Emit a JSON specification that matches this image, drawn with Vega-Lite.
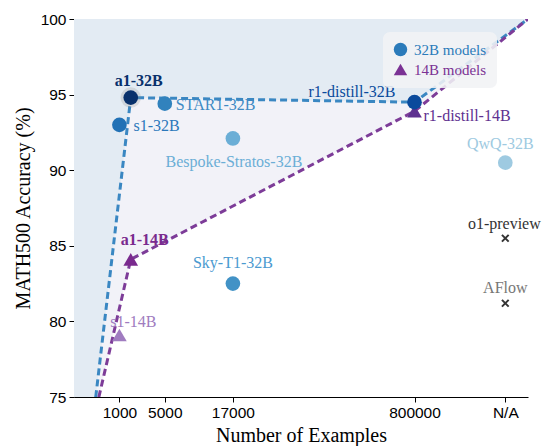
{
  "$schema": "https://vega.github.io/schema/vega-lite/v6.json",
  "width": 454,
  "height": 378,
  "autosize": {"type": "none"},
  "padding": {"left": 74, "top": 19, "right": 15, "bottom": 49},
  "background": "white",
  "config": {
    "view": {"stroke": null},
    "axis": {
      "grid": false,
      "domainColor": "#000000",
      "tickColor": "#000000",
      "domainWidth": 1,
      "tickWidth": 1,
      "tickSize": 5,
      "labelFont": "Liberation Sans",
      "labelFontSize": 15.5,
      "labelColor": "#000000",
      "titleFont": "Liberation Serif",
      "titleFontSize": 20,
      "titleFontWeight": "normal",
      "titleColor": "#000000"
    }
  },
  "datasets": {
    "models": [
      {"name": "s1-14B", "x": 10, "y": 79.1, "group": "14B models"},
      {"name": "a1-14B", "x": 12.5, "y": 84.1, "group": "14B models"},
      {"name": "r1-distill-14B", "x": 75, "y": 93.9, "group": "14B models"},
      {"name": "s1-32B", "x": 10, "y": 93.0, "group": "32B models"},
      {"name": "STAR1-32B", "x": 20, "y": 94.4, "group": "32B models"},
      {"name": "Bespoke-Stratos-32B", "x": 35, "y": 92.1, "group": "32B models"},
      {"name": "Sky-T1-32B", "x": 35, "y": 82.5, "group": "32B models"},
      {"name": "QwQ-32B", "x": 95, "y": 90.5, "group": "32B models"},
      {"name": "r1-distill-32B", "x": 75, "y": 94.5, "group": "32B models"},
      {"name": "a1-32B", "x": 12.5, "y": 94.8, "group": "32B models"},
      {"name": "o1-preview", "x": 95, "y": 85.5, "group": "baseline"},
      {"name": "AFlow", "x": 95, "y": 81.2, "group": "baseline"}
    ],
    "frontier": [
      {"series": "32B", "x": 0, "y": 62.7},
      {"series": "32B", "x": 12.5, "y": 94.8},
      {"series": "32B", "x": 75, "y": 94.5},
      {"series": "32B", "x": 100, "y": 100},
      {"series": "14B", "x": 0, "y": 67.9},
      {"series": "14B", "x": 12.5, "y": 84.1},
      {"series": "14B", "x": 75, "y": 93.9},
      {"series": "14B", "x": 100, "y": 100}
    ]
  },
  "encoding": {
    "x": {
      "field": "x",
      "type": "quantitative",
      "scale": {"domain": [0, 100], "nice": false, "zero": false},
      "axis": {
        "title": "Number of Examples",
        "values": [10, 20, 35, 75, 95],
        "labelExpr": "datum.value == 10 ? '1000' : datum.value == 20 ? '5000' : datum.value == 35 ? '17000' : datum.value == 75 ? '800000' : 'N/A'",
        "labelPadding": 3,
        "titlePadding": 5
      }
    },
    "y": {
      "field": "y",
      "type": "quantitative",
      "scale": {"domain": [75, 100], "nice": false, "zero": false},
      "axis": {
        "title": "MATH500 Accuracy (%)",
        "values": [75, 80, 85, 90, 95, 100],
        "labelPadding": 3,
        "titlePadding": 7
      }
    }
  },
  "layer": [
    {
      "data": {"name": "frontier"},
      "transform": [{"filter": "datum.series === '14B'"}],
      "mark": {"type": "area", "clip": true, "color": "#f2f2f8", "opacity": 1},
      "encoding": {"y2": {"datum": 100}}
    },
    {
      "data": {"name": "frontier"},
      "transform": [{"filter": "datum.series === '32B'"}],
      "mark": {"type": "area", "clip": true, "color": "#e3ebf3", "opacity": 1},
      "encoding": {"y2": {"datum": 100}}
    },
    {
      "data": {"name": "frontier"},
      "transform": [{"filter": "datum.series === '32B'"}],
      "mark": {"type": "line", "clip": true, "color": "#3a87c2", "strokeWidth": 3, "strokeDash": [7, 4]},
      "encoding": {}
    },
    {
      "data": {"name": "frontier"},
      "transform": [{"filter": "datum.series === '14B'"}],
      "mark": {"type": "line", "clip": true, "color": "#7d3c98", "strokeWidth": 3, "strokeDash": [7, 4]},
      "encoding": {}
    },
    {
      "data": {"name": "models"},
      "transform": [{"filter": "datum.name === 'a1-32B'"}],
      "mark": {"type": "circle", "size": 420, "color": "#8a8a8a", "opacity": 0.22}
    },
    {
      "data": {"name": "models"},
      "transform": [{"filter": "datum.group !== 'baseline'"}],
      "mark": {"type": "point", "filled": true, "size": 215, "opacity": 1},
      "encoding": {
        "shape": {
          "field": "group",
          "type": "nominal",
          "scale": {"domain": ["32B models", "14B models"], "range": ["circle", "triangle-up"]},
          "legend": {
            "title": null,
            "orient": "none",
            "legendX": 309,
            "legendY": 13,
            "fillColor": "rgba(241,242,245,0.88)",
            "cornerRadius": 7,
            "padding": 10,
            "strokeColor": null,
            "labelFont": "Liberation Serif",
            "labelFontSize": 15,
            "labelOffset": 6,
            "rowPadding": 4,
            "symbolSize": 180,
            "symbolStrokeWidth": 0,
            "symbolOpacity": 1,
            "symbolFillColor": {"expr": "datum.value === '32B models' ? '#2b7bba' : '#7b3294'"},
            "labelColor": {"expr": "datum.value === '32B models' ? '#2b7bba' : '#7b3294'"}
          }
        },
        "color": {
          "field": "name",
          "type": "nominal",
          "legend": null,
          "scale": {
            "domain": ["s1-14B", "a1-14B", "r1-distill-14B", "s1-32B", "STAR1-32B", "Bespoke-Stratos-32B", "Sky-T1-32B", "QwQ-32B", "r1-distill-32B", "a1-32B"],
            "range": ["#a07cc0", "#7a2a8e", "#5e3190", "#2171b5", "#3182bd", "#6baed6", "#4292c6", "#9ecae1", "#0a4a9c", "#08306b"]
          }
        }
      }
    },
    {
      "data": {"name": "models"},
      "transform": [{"filter": "datum.group === 'baseline'"}],
      "mark": {"type": "point", "shape": "M-1,-1L1,1M-1,1L1,-1", "filled": false, "size": 45, "stroke": "#333333", "strokeWidth": 2, "opacity": 1}
    },
    {
      "data": {"name": "models"},
      "transform": [{"filter": "datum.name === 'a1-32B'"}],
      "mark": {"type": "text", "dx": 8, "dy": -17, "font": "Liberation Serif", "fontSize": 16, "fontWeight": "bold", "color": "#08306b"},
      "encoding": {"text": {"field": "name"}}
    },
    {
      "data": {"name": "models"},
      "transform": [{"filter": "datum.name === 's1-32B'"}],
      "mark": {"type": "text", "align": "left", "dx": 14, "dy": 1, "font": "Liberation Serif", "fontSize": 16, "color": "#2b78bb"},
      "encoding": {"text": {"field": "name"}}
    },
    {
      "data": {"name": "models"},
      "transform": [{"filter": "datum.name === 'STAR1-32B'"}],
      "mark": {"type": "text", "align": "left", "dx": 11, "dy": 1, "font": "Liberation Serif", "fontSize": 16, "color": "#3f8ac4"},
      "encoding": {"text": {"field": "name"}}
    },
    {
      "data": {"name": "models"},
      "transform": [{"filter": "datum.name === 'Bespoke-Stratos-32B'"}],
      "mark": {"type": "text", "dx": 1, "dy": 24, "font": "Liberation Serif", "fontSize": 16, "color": "#6baed6"},
      "encoding": {"text": {"field": "name"}}
    },
    {
      "data": {"name": "models"},
      "transform": [{"filter": "datum.name === 'r1-distill-32B'"}],
      "mark": {"type": "text", "align": "right", "dx": -19, "dy": -10, "font": "Liberation Serif", "fontSize": 16, "color": "#0a4a9c"},
      "encoding": {"text": {"field": "name"}}
    },
    {
      "data": {"name": "models"},
      "transform": [{"filter": "datum.name === 'r1-distill-14B'"}],
      "mark": {"type": "text", "align": "left", "dx": 9, "dy": 5, "font": "Liberation Serif", "fontSize": 16, "color": "#5e3190"},
      "encoding": {"text": {"field": "name"}}
    },
    {
      "data": {"name": "models"},
      "transform": [{"filter": "datum.name === 'QwQ-32B'"}],
      "mark": {"type": "text", "dx": -5, "dy": -19, "font": "Liberation Serif", "fontSize": 16, "color": "#9ecae1"},
      "encoding": {"text": {"field": "name"}}
    },
    {
      "data": {"name": "models"},
      "transform": [{"filter": "datum.name === 'Sky-T1-32B'"}],
      "mark": {"type": "text", "dx": 0, "dy": -21, "font": "Liberation Serif", "fontSize": 16, "color": "#4a9ad0"},
      "encoding": {"text": {"field": "name"}}
    },
    {
      "data": {"name": "models"},
      "transform": [{"filter": "datum.name === 'a1-14B'"}],
      "mark": {"type": "text", "dx": 14, "dy": -19, "font": "Liberation Serif", "fontSize": 16, "fontWeight": "bold", "color": "#7a2a8e"},
      "encoding": {"text": {"field": "name"}}
    },
    {
      "data": {"name": "models"},
      "transform": [{"filter": "datum.name === 's1-14B'"}],
      "mark": {"type": "text", "dx": 14, "dy": -13, "font": "Liberation Serif", "fontSize": 16, "color": "#a07cc0"},
      "encoding": {"text": {"field": "name"}}
    },
    {
      "data": {"name": "models"},
      "transform": [{"filter": "datum.name === 'o1-preview'"}],
      "mark": {"type": "text", "dx": -1, "dy": -14, "font": "Liberation Serif", "fontSize": 16, "color": "#333333"},
      "encoding": {"text": {"field": "name"}}
    },
    {
      "data": {"name": "models"},
      "transform": [{"filter": "datum.name === 'AFlow'"}],
      "mark": {"type": "text", "dx": 0, "dy": -15, "font": "Liberation Serif", "fontSize": 16, "color": "#777777"},
      "encoding": {"text": {"field": "name"}}
    }
  ]
}
